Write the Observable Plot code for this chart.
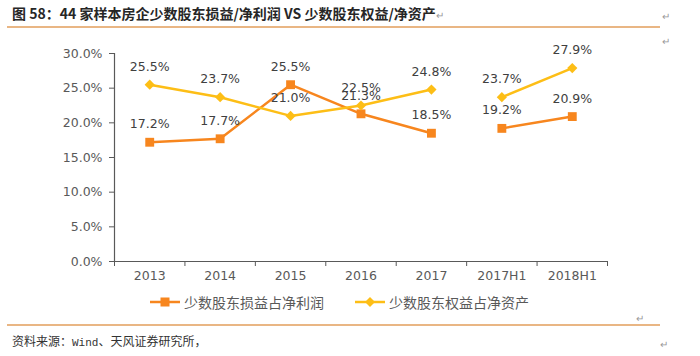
<!DOCTYPE html>
<html><head><meta charset="utf-8">
<script src="https://cdn.jsdelivr.net/npm/d3@7"></script>
<script src="https://cdn.jsdelivr.net/npm/@observablehq/plot@0.6"></script>
<style>
body{margin:0;background:#fff;width:700px;height:356px;position:relative;overflow:hidden;font-family:"Noto Sans CJK SC",sans-serif;}
#title{position:absolute;left:12px;top:3px;font-size:14px;font-weight:bold;color:#262626;white-space:nowrap;}
.rule{position:absolute;left:7px;width:653px;height:2px;background:#E9B684;}
#chart{position:absolute;left:0;top:30px;}
.leg{position:absolute;top:293px;height:18px;display:flex;align-items:center;font-size:14px;color:#595959;white-space:nowrap;}
.leg svg{margin-right:4px;}
#source{position:absolute;left:12px;top:332px;font-size:12px;color:#333;white-space:nowrap;}
#source .w{font-family:"Liberation Mono",monospace;font-size:11px;}
.ret{position:absolute;font-size:10px;color:#999;}
</style></head>
<body>
<div id="title">图 58：44 家样本房企少数股东损益/净利润 VS 少数股东权益/净资产<span style="font-weight:normal;color:#999;font-size:10px">↵</span></div>
<div class="ret" style="left:662px;top:8px">↵</div>
<div class="rule" style="top:26px"></div>
<div class="ret" style="left:662px;top:33px">↵</div>
<div id="chart"></div>
<div id="legend"></div>
<div class="ret" style="left:636px;top:310px">↵</div>
<div class="rule" style="top:324px"></div>
<div id="source">资料来源：<span class="w">Wind</span>、天风证券研究所，</div>
<div class="ret" style="left:660px;top:336px">↵</div>
<script>
const categories = ["2013","2014","2015","2016","2017","2017H1","2018H1"];
const profitShare = [17.2,17.7,25.5,21.3,18.5,19.2,20.9];
const equityShare = [25.5,23.7,21.0,22.5,24.8,23.7,27.9];
const periodGroup = ["年度","年度","年度","年度","年度","半年","半年"];
const seriesNames = ["少数股东损益占净利润","少数股东权益占净资产"];
const seriesColors = ["#F7861E","#FDBE16"];
const yTicks = [0,5,10,15,20,25,30];

const rows = categories.flatMap((c,i)=>[
  {i, cat:c, v:profitShare[i], s:seriesNames[0], g:periodGroup[i]},
  {i, cat:c, v:equityShare[i], s:seriesNames[1], g:periodGroup[i]}
]);
const cx = d => d.i + 0.5;

const chart = Plot.plot({
  width:700, height:260,
  marginLeft:114, marginRight:93, marginTop:23, marginBottom:29,
  x:{type:"linear", domain:[0, categories.length], label:null},
  y:{domain:[0,30], label:null},
  color:{domain:seriesNames, range:seriesColors},
  style:{fontFamily:"DejaVu Sans", fontSize:"12px", color:"#595959", background:"transparent"},
  marks:[
    Plot.axisY({ticks:yTicks, tickFormat:d=>d.toFixed(1)+"%", tickSize:5, tickPadding:7, fontSize:12.5, label:null}),
    Plot.axisX({ticks:d3.range(categories.length+1), tickFormat:()=>"", tickSize:5, label:null}),
    Plot.axisX({ticks:categories.map((c,i)=>i+0.5), tickFormat:d=>categories[Math.round(d-0.5)], tickSize:0, tickPadding:10, fontSize:12.5, label:null}),
    Plot.ruleY([0], {stroke:"#595959", strokeWidth:1.2}),
    Plot.ruleX([0], {y1:0, y2:30, stroke:"#595959", strokeWidth:1.2}),
    Plot.line(rows, {x:cx, y:"v", z:d=>d.s+d.g, stroke:"s", strokeWidth:2.5}),
    Plot.dot(rows.filter(d=>d.s===seriesNames[0]), {x:cx, y:"v", symbol:"square", r:5, fill:seriesColors[0], stroke:"none"}),
    Plot.dot(rows.filter(d=>d.s===seriesNames[1]), {x:cx, y:"v", symbol:"diamond2", r:4.6, fill:seriesColors[1], stroke:"none"}),
    Plot.text(rows, {x:cx, y:"v", text:d=>d.v.toFixed(1)+"%", dy:-18, fill:"#404040", fontSize:12.5})
  ]
});
document.getElementById("chart").appendChild(chart);

const legend = document.getElementById("legend");
const legLeft = [150, 355];
seriesNames.forEach((name,k)=>{
  const div = document.createElement("div");
  div.className = "leg";
  div.style.left = legLeft[k] + "px";
  const mk = k===0
    ? `<rect x="10.5" y="4.5" width="9" height="9" fill="${seriesColors[0]}"/>`
    : `<path d="M15,4 L20,9 L15,14 L10,9 Z" fill="${seriesColors[1]}"/>`;
  div.innerHTML = `<svg width="30" height="18"><line x1="0" x2="30" y1="9" y2="9" stroke="${seriesColors[k]}" stroke-width="2.5"/>${mk}</svg><span>${name}</span>`;
  legend.appendChild(div);
});
</script>
</body></html>
